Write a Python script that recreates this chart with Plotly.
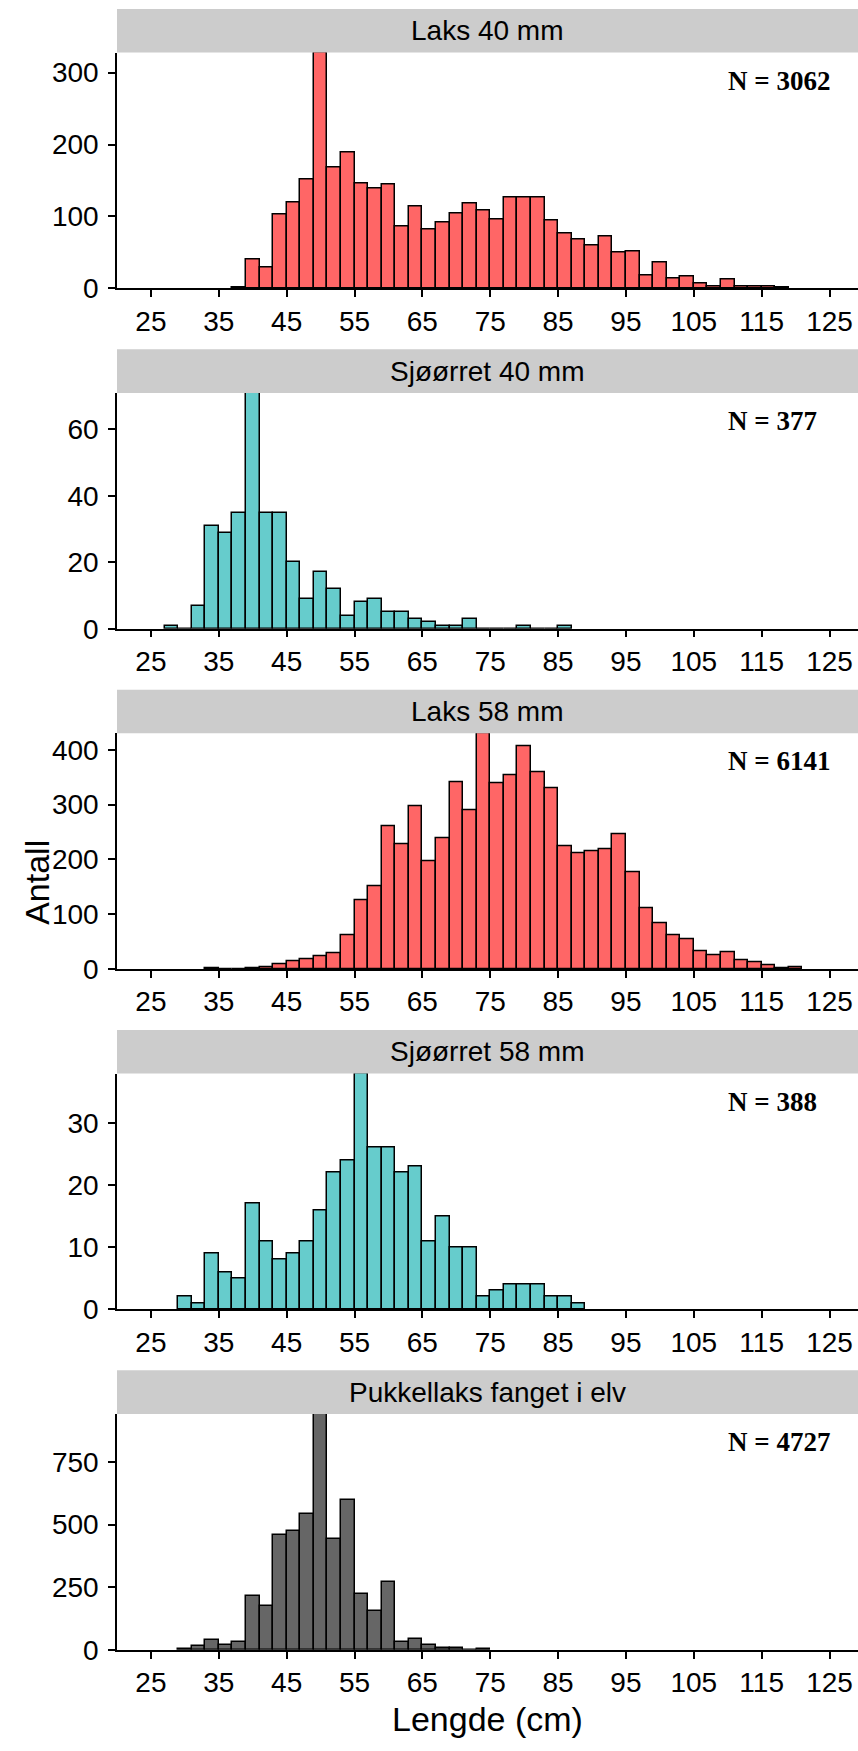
import plotly.graph_objects as go

# Length histograms (2 cm bins, bin centres in cm) per group
laks40_len = list(range(38, 120, 2))
laks40_n = [1, 40, 29, 102, 119, 152, 328, 168, 189, 146, 139, 144, 86, 114, 82, 92,
            104, 118, 108, 96, 126, 127, 126, 95, 76, 68, 60, 72, 50, 51, 18, 36,
            14, 17, 7, 3, 12, 3, 3, 2, 1]

sjo40_len = list(range(28, 88, 2))
sjo40_n = [1, 0, 7, 31, 29, 35, 71, 35, 35, 20, 9, 17, 12, 4, 8, 9, 5, 5, 3, 2,
           1, 1, 3, 0, 0, 0, 1, 0, 0, 1]

laks58_len = list(range(34, 122, 2))
laks58_n = [1, 0, 0, 2, 3, 8, 14, 18, 24, 29, 61, 126, 151, 261, 227, 296, 197, 238,
            340, 289, 430, 339, 354, 407, 358, 329, 224, 211, 214, 218, 245, 177,
            111, 83, 61, 55, 32, 25, 30, 16, 12, 7, 2, 4]

sjo58_len = list(range(30, 90, 2))
sjo58_n = [2, 1, 9, 6, 5, 17, 11, 8, 9, 11, 16, 22, 24, 38, 26, 26, 22, 23, 11, 15,
           10, 10, 2, 3, 4, 4, 4, 2, 2, 1]

pukk_len = list(range(30, 76, 2))
pukk_n = [5, 17, 40, 20, 30, 216, 176, 458, 475, 544, 942, 443, 597, 222, 155, 271,
          32, 44, 20, 8, 8, 0, 3]

panel_titles = ["Laks 40 mm", "Sjøørret 40 mm", "Laks 58 mm", "Sjøørret 58 mm",
                "Pukkellaks fanget i elv"]
panel_counts = ["N = 3062", "N = 377", "N = 6141", "N = 388", "N = 4727"]
panel_yticks = [[0, 100, 200, 300], [0, 20, 40, 60], [0, 100, 200, 300, 400],
                [0, 10, 20, 30], [0, 250, 500, 750]]
x_ticks = list(range(25, 126, 10))

RED, TEAL, GREY = "#FF6666", "#66CCCC", "#666666"
series = [(laks40_len, laks40_n, RED), (sjo40_len, sjo40_n, TEAL),
          (laks58_len, laks58_n, RED), (sjo58_len, sjo58_n, TEAL),
          (pukk_len, pukk_n, GREY)]

W, H = 858, 1751
LEFT = 117
STEP = 343.5
STRIP_TOP, PLOT_TOP, PLOT_BOT = 9, 53, 291
SANS = "Liberation Sans, Arial, sans-serif"
SERIF = "Liberation Serif, Times New Roman, serif"

fig = go.Figure()
shapes, annotations = [], []
x0p = LEFT / W

for k, (xs, ys, col) in enumerate(series):
    idx = "" if k == 0 else str(k + 1)
    fig.add_trace(go.Bar(
        x=xs, y=ys, width=2,
        marker=dict(color=col, line=dict(color="black", width=1.5)),
        xaxis="x" + idx, yaxis="y" + idx, showlegend=False,
    ))
    top = PLOT_TOP + STEP * k
    bot = PLOT_BOT + STEP * k
    dom = [1 - bot / H, 1 - top / H]
    axis_common = dict(showline=True, linecolor="black", linewidth=1.5,
                       ticks="outside", ticklen=7, tickwidth=1.5, tickcolor="black",
                       tickfont=dict(family=SANS, size=28, color="black"),
                       showgrid=False, zeroline=False)
    fig.update_layout(**{
        "xaxis" + idx: dict(domain=[x0p, 1], range=[20, 129.2], tickvals=x_ticks,
                            anchor="y" + idx, **axis_common),
        "yaxis" + idx: dict(domain=dom, range=[0, max(ys)], tickvals=panel_yticks[k],
                            anchor="x" + idx, ticklabelstandoff=4, **axis_common),
    })
    # facet strip
    s_top = STRIP_TOP + STEP * k
    shapes.append(dict(type="rect", xref="paper", yref="paper", x0=x0p, x1=1,
                       y0=1 - top / H, y1=1 - s_top / H,
                       fillcolor="#CCCCCC", line=dict(width=0), layer="below"))
    annotations.append(dict(xref="paper", yref="paper", x=(x0p + 1) / 2,
                            y=1 - (s_top + top) / 2 / H, text=panel_titles[k],
                            showarrow=False, xanchor="center", yanchor="middle",
                            font=dict(family=SANS, size=28, color="black")))
    # sample size label
    annotations.append(dict(xref="x" + idx, yref="paper", x=109.7,
                            y=1 - (top + 28.5) / H, text="<b>" + panel_counts[k] + "</b>",
                            showarrow=False, xanchor="left", yanchor="middle",
                            font=dict(family=SERIF, size=27, color="black")))

annotations.append(dict(xref="paper", yref="paper", x=(x0p + 1) / 2, y=1 - 1735 / H,
                        text="Lengde (cm)", showarrow=False, xanchor="center",
                        yanchor="middle", font=dict(family=SANS, size=34, color="black")))
annotations.append(dict(xref="paper", yref="paper", x=37 / W, y=1 - 891 / H,
                        text="Antall", showarrow=False, textangle=-90, xanchor="center",
                        yanchor="middle", font=dict(family=SANS, size=34, color="black")))

fig.update_layout(width=W, height=H, margin=dict(l=0, r=0, t=0, b=0),
                  paper_bgcolor="white", plot_bgcolor="white", bargap=0,
                  shapes=shapes, annotations=annotations)

fig.write_html("out.html")
